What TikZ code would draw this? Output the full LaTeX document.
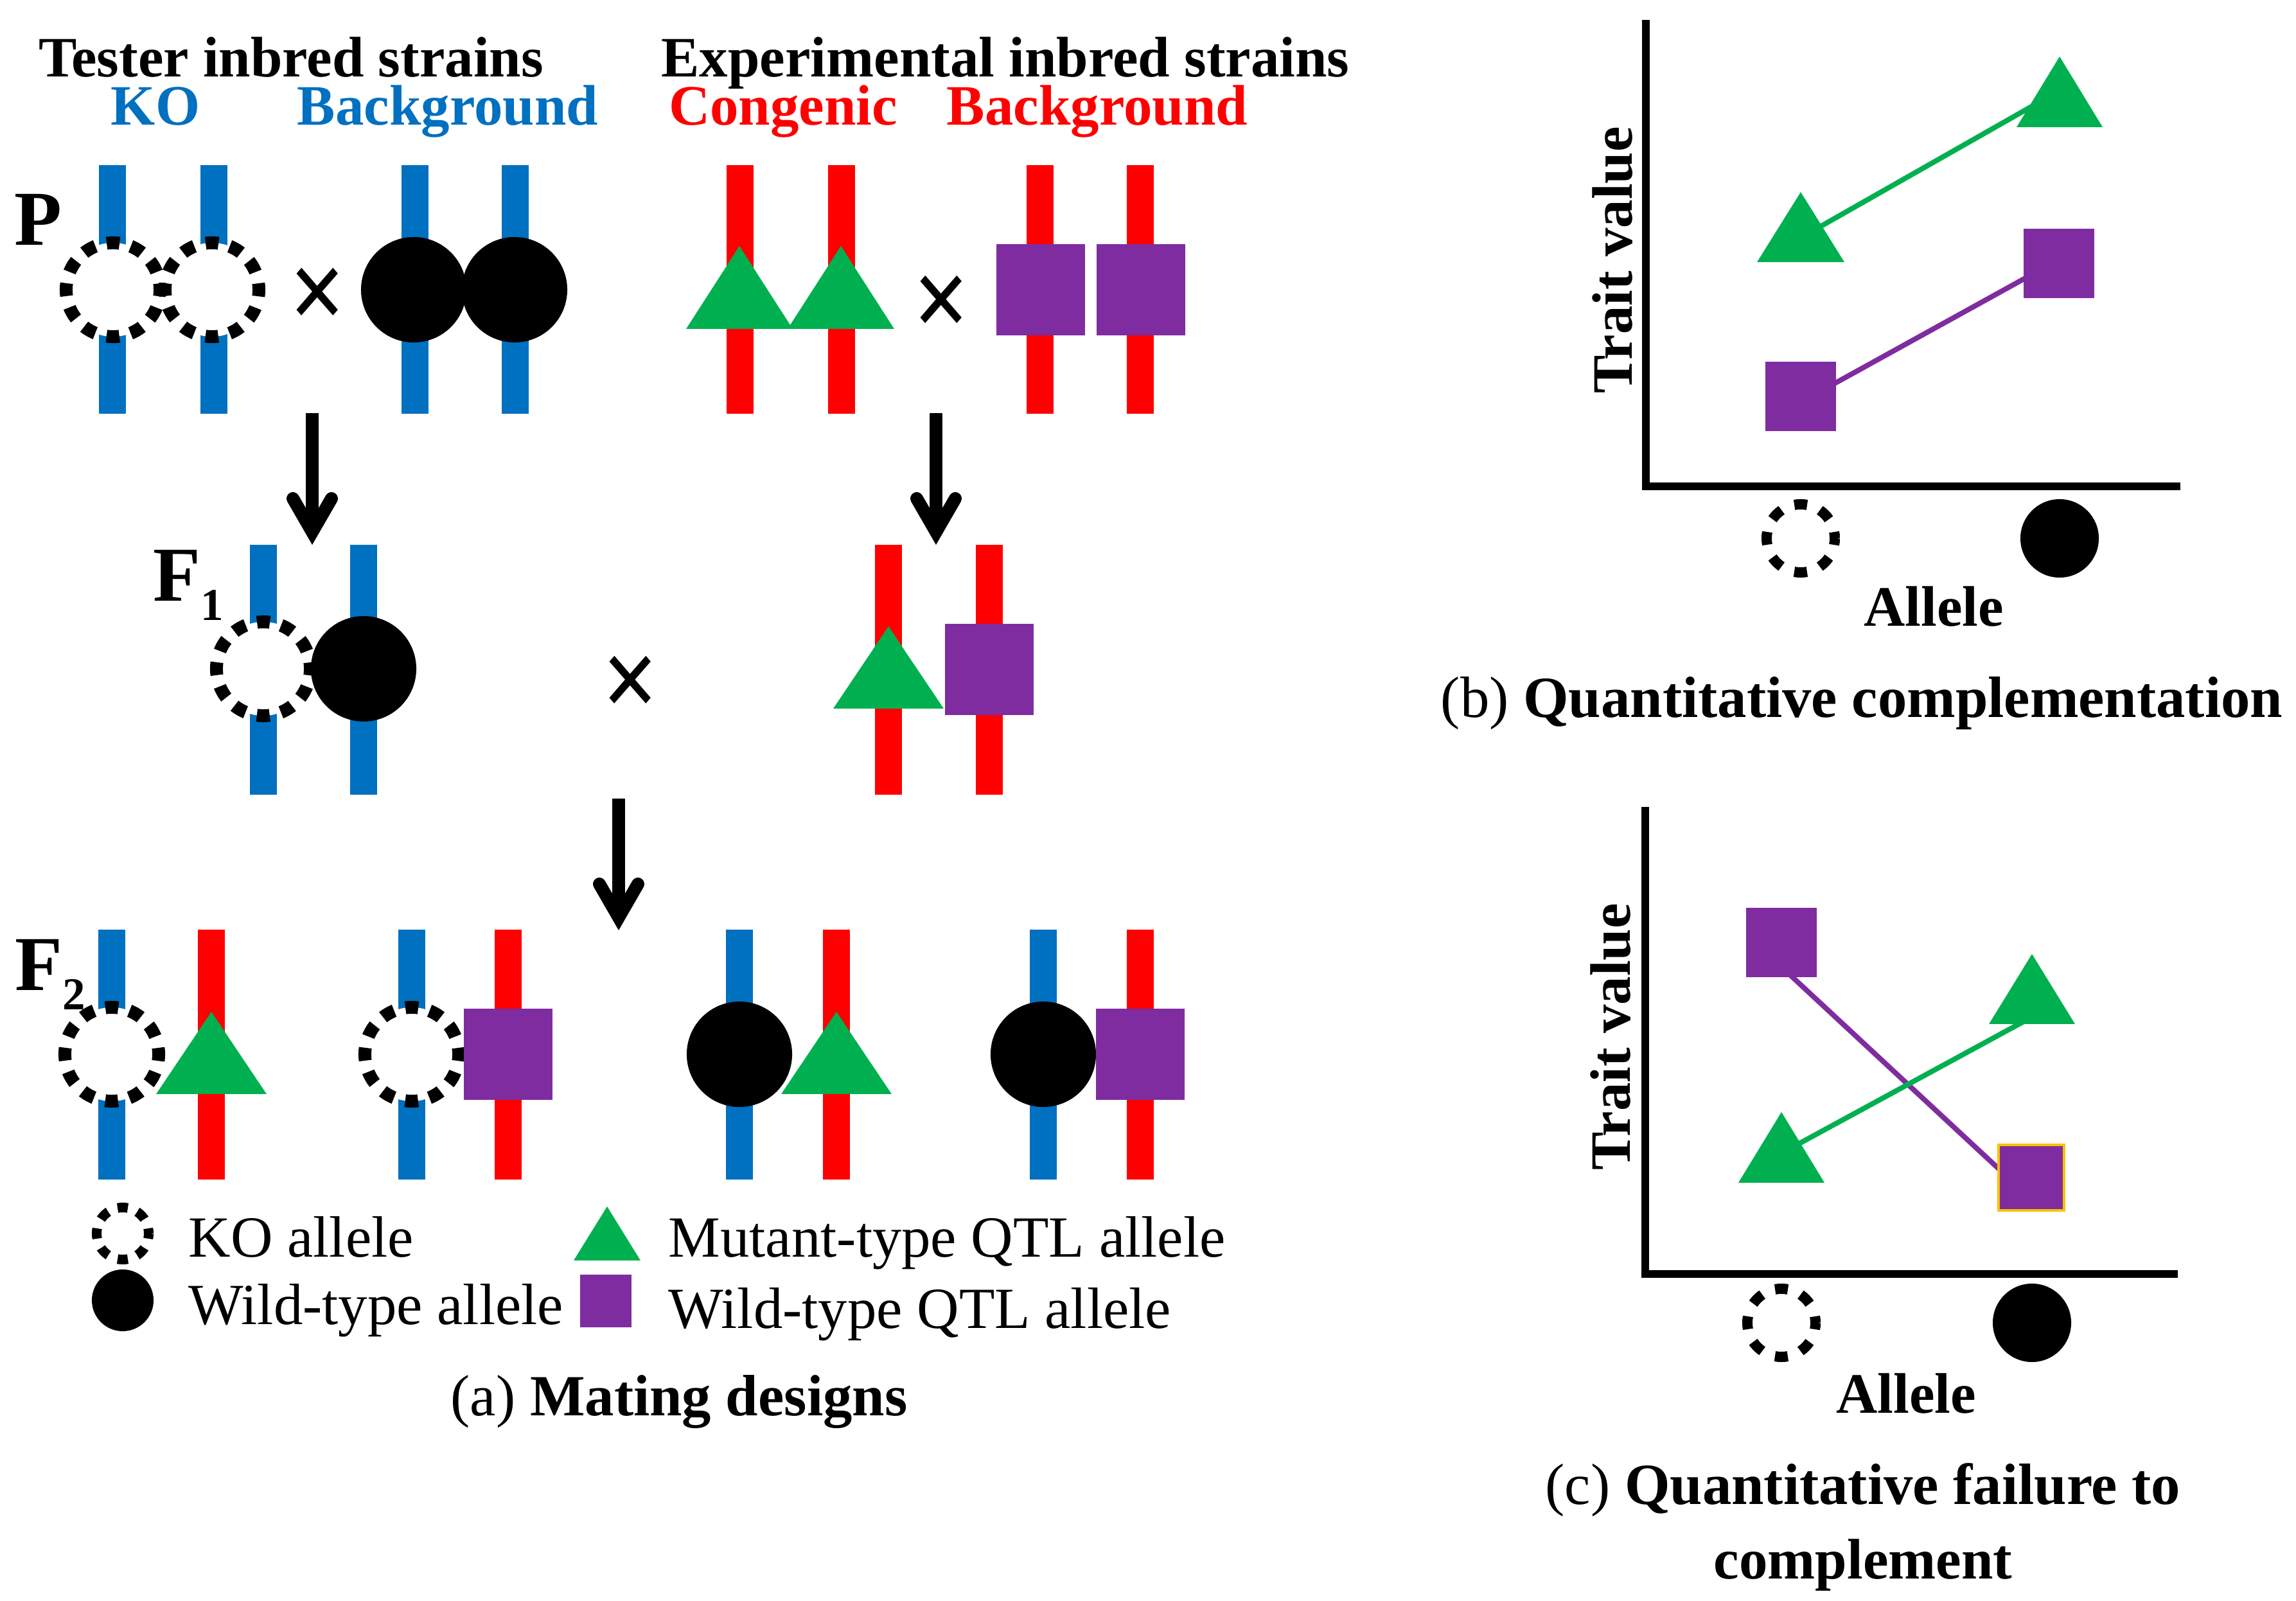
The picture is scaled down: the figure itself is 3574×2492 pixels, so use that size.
\documentclass[tikz,border=0pt]{standalone}
\usepackage{fontspec}
\setmainfont{Liberation Serif}
\usetikzlibrary{calc}
\definecolor{cblue}{RGB}{0,112,192}
\definecolor{cred}{RGB}{255,0,0}
\definecolor{cgreen}{RGB}{0,176,80}
\definecolor{cpurple}{RGB}{127,44,160}
\definecolor{corange}{RGB}{255,192,0}
\tikzset{
  bluebar/.style={draw=cblue, line width=0.42cm},
  redbar/.style={draw=cred, line width=0.42cm},
  ko/.style={circle, draw=black, fill=white, line width=0.2cm, dash pattern=on 0.2cm off 0.182cm, dash phase=0.1cm, minimum size=1.46cm, inner sep=0pt},
  wt/.style={circle, fill=black, minimum size=1.64cm, inner sep=0pt},
  sqbox/.style={rectangle, fill=cpurple, minimum width=1.38cm, minimum height=1.41cm, inner sep=0pt},
  tri/.style={fill=cgreen},
  ttl/.style={font=\fontsize{25.3}{30}\selectfont\bfseries, inner sep=0pt, anchor=base},
  lg/.style={font=\fontsize{25.8}{30}\selectfont, inner sep=0pt, anchor=base west},
  gen/.style={font=\fontsize{34.4}{38}\selectfont\bfseries, inner sep=0pt, anchor=base west},
  crossmark/.style={font=\fontsize{44}{44}\selectfont\bfseries, inner sep=0pt, anchor=center},
  shaft/.style={draw=black, line width=0.2cm},
  headv/.style={draw=black, line width=0.2cm, line cap=round, line join=miter},
  axisline/.style={draw=black, line width=0.12cm},
  gkos/.style={circle, draw=black, fill=white, line width=0.16cm, dash pattern=on 0.2cm off 0.216cm, dash phase=0.1cm, minimum size=1.06cm, inner sep=0pt},
  gwt/.style={circle, fill=black, minimum size=1.22cm, inner sep=0pt},
  gsq/.style={rectangle, fill=cpurple, minimum width=1.09cm, minimum height=1.08cm, inner sep=0pt},
  gline/.style={line width=0.08cm},
}
\newcommand\mytri[4]{\fill[tri] (#1,#2) -- ($(#1,#3)+(#4,0)$) -- ($(#1,#3)-(#4,0)$) -- cycle;}
\newcommand\crosssym{\scalebox{1}[1.15]{×}}
\begin{document}
\begin{tikzpicture}[x=0.01cm, y=-0.01cm]
\useasboundingbox (0,0) rectangle (3574,2492);

% ---------- headings ----------
\node[ttl] (t1) at (453,120) {Tester inbred strains};
\node[ttl, text=cblue] (t2) at (242,195) {KO};
\node[ttl, text=cblue] (t3) at (697,195) {Background};
\node[ttl] (t4) at (1565,120) {Experimental inbred strains};
\node[ttl, text=cred] (t5) at (1219,195) {Congenic};
\node[ttl, text=cred] (t6) at (1708,195) {Background};

% ---------- P row ----------
\node[gen] (gp) at (22,382) {P};
\foreach \x in {175,333}{\draw[bluebar] (\x,257) -- (\x,644);}
\foreach \x in {646,802}{\draw[bluebar] (\x,257) -- (\x,644);}
\node[ko] (pko1) at (176,451) {};
\node[ko] (pko2) at (330,451) {};
\node[wt] (pwt1) at (644,451) {};
\node[wt] (pwt2) at (801,451) {};
\node[crossmark] (px1) at (495,465) {\crosssym};

\foreach \x in {1152,1310,1619,1775}{\draw[redbar] (\x,257) -- (\x,644);}
\mytri{1151}{383}{512}{83}
\mytri{1309}{383}{512}{83}
\node[crossmark] (px2) at (1466,477) {\crosssym};
\node[sqbox] (psq1) at (1620,451) {};
\node[sqbox] (psq2) at (1776,451) {};

% ---------- arrows ----------
\coordinate (a1s) at (486,643); \coordinate (a1v) at (486,828);
\draw[shaft] (a1s) -- (a1v);
\draw[headv] ($(a1v)+(-30,-52)$) -- (a1v) -- ($(a1v)+(30,-52)$);
\coordinate (a2s) at (1457,643); \coordinate (a2v) at (1457,828);
\draw[shaft] (a2s) -- (a2v);
\draw[headv] ($(a2v)+(-30,-52)$) -- (a2v) -- ($(a2v)+(30,-52)$);
\coordinate (a3s) at (963,1243); \coordinate (a3v) at (963,1428);
\draw[shaft] (a3s) -- (a3v);
\draw[headv] ($(a3v)+(-30,-52)$) -- (a3v) -- ($(a3v)+(30,-52)$);

% ---------- F1 row ----------
\node[gen] (gf1) at (238,936) {F\raisebox{-0.29cm}{\fontsize{20.2}{22}\selectfont 1}};
\foreach \x in {410,566}{\draw[bluebar] (\x,848) -- (\x,1237);}
\node[ko] (fko) at (410,1041) {};
\node[wt] (fwt) at (566,1041) {};
\node[crossmark] (fx) at (982,1069) {\crosssym};
\foreach \x in {1383,1540}{\draw[redbar] (\x,848) -- (\x,1237);}
\mytri{1383}{975}{1103}{86}
\node[sqbox] (fsq) at (1540,1042) {};

% ---------- F2 row ----------
\node[gen] (gf2) at (23,1542) {F\raisebox{-0.29cm}{\fontsize{20.2}{22}\selectfont 2}};
\foreach \x in {174,641,1151,1624}{\draw[bluebar] (\x,1447) -- (\x,1836);}
\foreach \x in {329,791,1302,1775}{\draw[redbar] (\x,1447) -- (\x,1836);}
\node[ko] (f2ko1) at (174,1641) {};
\node[ko] (f2ko2) at (641,1641) {};
\node[wt] (f2wt1) at (1151,1641) {};
\node[wt] (f2wt2) at (1624,1641) {};
\mytri{329}{1575}{1703}{86}
\mytri{1302}{1575}{1703}{86}
\node[sqbox] (f2sq1) at (791,1641) {};
\node[sqbox] (f2sq2) at (1775,1641) {};

% ---------- legend ----------
\node[circle, draw=black, fill=white, line width=0.15cm, dash pattern=on 0.16cm off 0.158cm, dash phase=0.08cm, minimum size=0.81cm, inner sep=0pt] (lko) at (191,1920) {};
\node[lg] (lkot) at (293,1956) {KO allele};
\node[circle, fill=black, minimum size=0.96cm, inner sep=0pt] (lwt) at (191,2024) {};
\node[lg] (lwtt) at (293,2061) {Wild-type allele};
\mytri{945}{1878}{1962}{52}
\node[lg] (ltrit) at (1040,1956) {Mutant-type QTL allele};
\node[rectangle, fill=cpurple, minimum width=0.8cm, minimum height=0.82cm, inner sep=0pt] (lsq) at (943,2025) {};
\node[lg] (lsqt) at (1040,2067) {Wild-type QTL allele};
\node[lg, anchor=base] (capa) at (1057,2203) {(a) \textbf{Mating designs}};

% ---------- graph (b) ----------
\draw[axisline] (2562,31) -- (2562,757) -- (3394,757);
\coordinate (gb1) at (2803,370); \coordinate (gb2) at (3206,141);
\coordinate (pb1) at (2803,626); \coordinate (pb2) at (3205,404);
\draw[gline, cgreen] (gb1) -- (gb2);
\draw[gline, cpurple] (pb1) -- (pb2);
\mytri{2803}{299}{408}{68}
\mytri{3206}{88}{198}{67}
\node[gsq] (bsq1) at (2803,617) {};
\node[gsq] (bsq2) at (3205,410) {};
\node[gkos] (bko) at (2803,838) {};
\node[gwt] (bwt) at (3206,838) {};
\node[ttl, rotate=90, anchor=center] (by) at (2510,405) {Trait value};
\node[ttl] (bx) at (3010,975) {Allele};
\node[lg, anchor=base] (capb) at (2898,1117) {(b) \textbf{Quantitative complementation}};

% ---------- graph (c) ----------
\draw[axisline] (2561,1256) -- (2561,1983) -- (3390,1983);
\coordinate (gc1) at (2773,1795); \coordinate (gc2) at (3163,1583);
\coordinate (pc1) at (2773,1505); \coordinate (pc2) at (3140,1846);
\draw[gline, cpurple] (pc1) -- (pc2);
\draw[gline, cgreen] (gc1) -- (gc2);
\node[gsq] (csq1) at (2773,1467) {};
\node[gsq, draw=corange, line width=0.04cm, minimum width=1.02cm, minimum height=1.02cm] (csq2) at (3162,1833) {};
\mytri{2773}{1731}{1841}{67}
\mytri{3163}{1485}{1594}{67}
\node[gkos] (cko) at (2773,2059) {};
\node[gwt] (cwt) at (3163,2059) {};
\node[ttl, rotate=90, anchor=center] (cy) at (2507,1614) {Trait value};
\node[ttl] (cx) at (2967,2199) {Allele};
\node[lg, anchor=base] (capc1) at (2900,2341) {(c) \textbf{Quantitative failure to}};
\node[ttl] (capc2) at (2900,2457) {complement};
\end{tikzpicture}
\end{document}
